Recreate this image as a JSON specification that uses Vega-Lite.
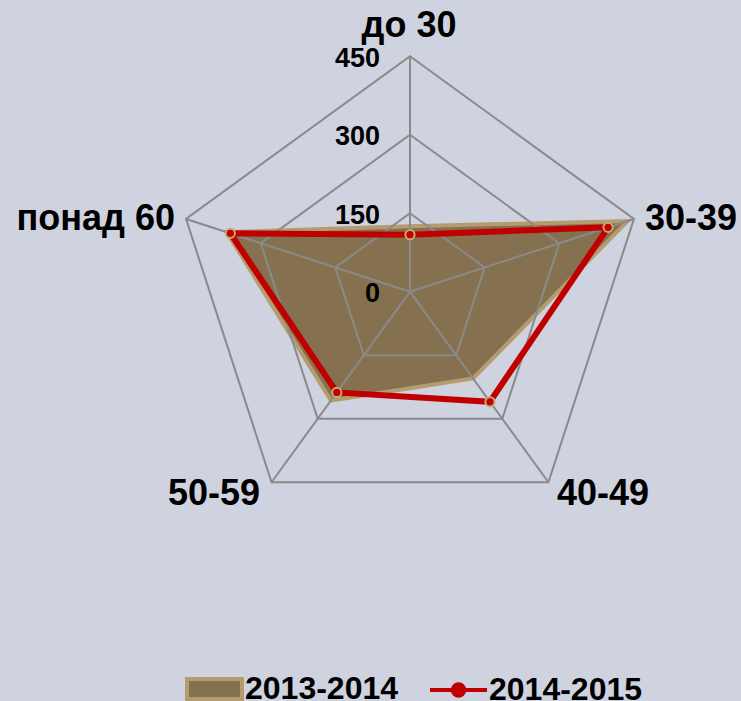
{
  "$schema": "https://vega.github.io/schema/vega-lite/v6.json",
  "width": 741,
  "height": 701,
  "autosize": {"type": "none"},
  "padding": 0,
  "background": "#cfd2df",
  "config": {
    "view": {"stroke": null},
    "text": {"font": "Liberation Sans", "fontWeight": "bold", "color": "black"}
  },
  "datasets": {
    "vals": [
      {"series": "2013-2014", "axis": "до 30", "idx": 0, "value": 125},
      {"series": "2013-2014", "axis": "30-39", "idx": 1, "value": 437},
      {"series": "2013-2014", "axis": "40-49", "idx": 2, "value": 205},
      {"series": "2013-2014", "axis": "50-59", "idx": 3, "value": 257},
      {"series": "2013-2014", "axis": "понад 60", "idx": 4, "value": 368},
      {"series": "2014-2015", "axis": "до 30", "idx": 0, "value": 109},
      {"series": "2014-2015", "axis": "30-39", "idx": 1, "value": 398},
      {"series": "2014-2015", "axis": "40-49", "idx": 2, "value": 260},
      {"series": "2014-2015", "axis": "50-59", "idx": 3, "value": 238},
      {"series": "2014-2015", "axis": "понад 60", "idx": 4, "value": 361}
    ],
    "grid": [
      {"ring": 150, "idx": 0}, {"ring": 150, "idx": 1}, {"ring": 150, "idx": 2}, {"ring": 150, "idx": 3}, {"ring": 150, "idx": 4},
      {"ring": 300, "idx": 0}, {"ring": 300, "idx": 1}, {"ring": 300, "idx": 2}, {"ring": 300, "idx": 3}, {"ring": 300, "idx": 4},
      {"ring": 450, "idx": 0}, {"ring": 450, "idx": 1}, {"ring": 450, "idx": 2}, {"ring": 450, "idx": 3}, {"ring": 450, "idx": 4}
    ],
    "spokes": [
      {"axis": "до 30", "idx": 0, "max": 450},
      {"axis": "30-39", "idx": 1, "max": 450},
      {"axis": "40-49", "idx": 2, "max": 450},
      {"axis": "50-59", "idx": 3, "max": 450},
      {"axis": "понад 60", "idx": 4, "max": 450}
    ],
    "ticks": [{"tick": 0}, {"tick": 150}, {"tick": 300}, {"tick": 450}]
  },
  "layer": [
    {
      "data": {"name": "vals"},
      "transform": [
        {"filter": "datum.series === '2013-2014'"},
        {"calculate": "datum.value*cos(PI/2 - datum.idx*2*PI/5)", "as": "x"},
        {"calculate": "datum.value*sin(PI/2 - datum.idx*2*PI/5)", "as": "y"}
      ],
      "mark": {"type": "line", "interpolate": "linear-closed", "fill": "#85714f", "strokeWidth": 4, "strokeJoin": "miter"},
      "encoding": {
        "x": {"field": "x", "type": "quantitative", "axis": null, "scale": {"domain": [-783.4, 632.5], "nice": false, "zero": false}},
        "y": {"field": "y", "type": "quantitative", "axis": null, "scale": {"domain": [-782.1, 557.4], "nice": false, "zero": false}},
        "order": {"field": "idx", "type": "quantitative"},
        "stroke": {
          "field": "series", "type": "nominal",
          "scale": {"domain": ["2013-2014"], "range": ["#b49c6e"]},
          "legend": {
            "orient": "none", "legendX": 185, "legendY": 659.5, "title": null, "padding": 0,
            "labelFont": "Liberation Sans", "labelFontSize": 32, "labelFontWeight": "bold", "labelColor": "black",
            "symbolType": "M-1,-0.36H1V0.36H-1Z", "symbolSize": 3025, "symbolStrokeWidth": 4,
            "symbolFillColor": "#85714f", "labelOffset": 1,
            "encode": {"symbols": {"fill": {"value": "#85714f"}, "stroke": {"value": "#b49c6e"}, "strokeWidth": {"value": 4}, "opacity": {"value": 1}}}
          }
        }
      }
    },
    {
      "data": {"name": "grid"},
      "transform": [
        {"calculate": "datum.ring*cos(PI/2 - datum.idx*2*PI/5)", "as": "x"},
        {"calculate": "datum.ring*sin(PI/2 - datum.idx*2*PI/5)", "as": "y"}
      ],
      "mark": {"type": "line", "interpolate": "linear-closed", "stroke": "#8a8a8a", "strokeWidth": 2},
      "encoding": {
        "x": {"field": "x", "type": "quantitative", "axis": null, "scale": {"domain": [-783.4, 632.5], "nice": false, "zero": false}},
        "y": {"field": "y", "type": "quantitative", "axis": null, "scale": {"domain": [-782.1, 557.4], "nice": false, "zero": false}},
        "detail": {"field": "ring", "type": "nominal"},
        "order": {"field": "idx", "type": "quantitative"}
      }
    },
    {
      "data": {"name": "spokes"},
      "transform": [
        {"calculate": "datum.max*cos(PI/2 - datum.idx*2*PI/5)", "as": "x"},
        {"calculate": "datum.max*sin(PI/2 - datum.idx*2*PI/5)", "as": "y"},
        {"calculate": "0", "as": "cx"},
        {"calculate": "0", "as": "cy"}
      ],
      "mark": {"type": "rule", "stroke": "#8a8a8a", "strokeWidth": 2},
      "encoding": {
        "x": {"field": "x", "type": "quantitative", "axis": null, "scale": {"domain": [-783.4, 632.5], "nice": false, "zero": false}},
        "y": {"field": "y", "type": "quantitative", "axis": null, "scale": {"domain": [-782.1, 557.4], "nice": false, "zero": false}},
        "x2": {"field": "cx"},
        "y2": {"field": "cy"}
      }
    },
    {
      "data": {"name": "vals"},
      "transform": [
        {"filter": "datum.series === '2014-2015'"},
        {"calculate": "datum.value*cos(PI/2 - datum.idx*2*PI/5)", "as": "x"},
        {"calculate": "datum.value*sin(PI/2 - datum.idx*2*PI/5)", "as": "y"}
      ],
      "mark": {"type": "line", "interpolate": "linear-closed", "stroke": "#c00000", "strokeWidth": 6, "strokeJoin": "miter"},
      "encoding": {
        "x": {"field": "x", "type": "quantitative", "axis": null, "scale": {"domain": [-783.4, 632.5], "nice": false, "zero": false}},
        "y": {"field": "y", "type": "quantitative", "axis": null, "scale": {"domain": [-782.1, 557.4], "nice": false, "zero": false}},
        "order": {"field": "idx", "type": "quantitative"}
      }
    },
    {
      "data": {"name": "vals"},
      "transform": [
        {"filter": "datum.series === '2014-2015'"},
        {"calculate": "datum.value*cos(PI/2 - datum.idx*2*PI/5)", "as": "x"},
        {"calculate": "datum.value*sin(PI/2 - datum.idx*2*PI/5)", "as": "y"}
      ],
      "mark": {"type": "point", "filled": true, "shape": "circle", "size": 85, "stroke": "#c8a870", "strokeWidth": 2, "opacity": 1},
      "encoding": {
        "x": {"field": "x", "type": "quantitative", "axis": null, "scale": {"domain": [-783.4, 632.5], "nice": false, "zero": false}},
        "y": {"field": "y", "type": "quantitative", "axis": null, "scale": {"domain": [-782.1, 557.4], "nice": false, "zero": false}},
        "fill": {
          "field": "series", "type": "nominal",
          "scale": {"domain": ["2014-2015"], "range": ["#c00000"]},
          "legend": {
            "orient": "none", "legendX": 428, "legendY": 659.5, "title": null, "padding": 0,
            "labelFont": "Liberation Sans", "labelFontSize": 32, "labelFontWeight": "bold", "labelColor": "black",
            "symbolType": "M-1,0H-0.22M0.22,0H1M0.2,0A0.2,0.2,0,1,1,-0.2,0A0.2,0.2,0,1,1,0.2,0",
            "symbolSize": 3249, "symbolStrokeWidth": 4, "symbolStrokeColor": "#c00000", "labelOffset": 0,
            "encode": {"symbols": {"fill": {"value": "#c00000"}, "stroke": {"value": "#c00000"}, "strokeWidth": {"value": 4}, "opacity": {"value": 1}}}
          }
        }
      }
    },
    {
      "data": {"name": "ticks"},
      "transform": [{"calculate": "0", "as": "cx"}],
      "mark": {"type": "text", "align": "right", "baseline": "alphabetic", "dx": -30, "dy": 10.7, "fontSize": 27},
      "encoding": {
        "x": {"field": "cx", "type": "quantitative", "axis": null, "scale": {"domain": [-783.4, 632.5], "nice": false, "zero": false}},
        "y": {"field": "tick", "type": "quantitative", "axis": null, "scale": {"domain": [-782.1, 557.4], "nice": false, "zero": false}},
        "text": {"field": "tick", "type": "quantitative"}
      }
    },
    {
      "data": {"name": "spokes"},
      "transform": [
        {"filter": "datum.idx === 0"},
        {"calculate": "datum.max*cos(PI/2 - datum.idx*2*PI/5)", "as": "x"},
        {"calculate": "datum.max*sin(PI/2 - datum.idx*2*PI/5)", "as": "y"}
      ],
      "mark": {"type": "text", "align": "center", "baseline": "alphabetic", "dx": -1, "dy": -19, "fontSize": 36},
      "encoding": {
        "x": {"field": "x", "type": "quantitative", "axis": null, "scale": {"domain": [-783.4, 632.5], "nice": false, "zero": false}},
        "y": {"field": "y", "type": "quantitative", "axis": null, "scale": {"domain": [-782.1, 557.4], "nice": false, "zero": false}},
        "text": {"field": "axis", "type": "nominal"}
      }
    },
    {
      "data": {"name": "spokes"},
      "transform": [
        {"filter": "datum.idx === 1"},
        {"calculate": "datum.max*cos(PI/2 - datum.idx*2*PI/5)", "as": "x"},
        {"calculate": "datum.max*sin(PI/2 - datum.idx*2*PI/5)", "as": "y"}
      ],
      "mark": {"type": "text", "align": "left", "baseline": "alphabetic", "dx": 11, "dy": 11, "fontSize": 36},
      "encoding": {
        "x": {"field": "x", "type": "quantitative", "axis": null, "scale": {"domain": [-783.4, 632.5], "nice": false, "zero": false}},
        "y": {"field": "y", "type": "quantitative", "axis": null, "scale": {"domain": [-782.1, 557.4], "nice": false, "zero": false}},
        "text": {"field": "axis", "type": "nominal"}
      }
    },
    {
      "data": {"name": "spokes"},
      "transform": [
        {"filter": "datum.idx === 2"},
        {"calculate": "datum.max*cos(PI/2 - datum.idx*2*PI/5)", "as": "x"},
        {"calculate": "datum.max*sin(PI/2 - datum.idx*2*PI/5)", "as": "y"}
      ],
      "mark": {"type": "text", "align": "left", "baseline": "alphabetic", "dx": 8.6, "dy": 23, "fontSize": 36},
      "encoding": {
        "x": {"field": "x", "type": "quantitative", "axis": null, "scale": {"domain": [-783.4, 632.5], "nice": false, "zero": false}},
        "y": {"field": "y", "type": "quantitative", "axis": null, "scale": {"domain": [-782.1, 557.4], "nice": false, "zero": false}},
        "text": {"field": "axis", "type": "nominal"}
      }
    },
    {
      "data": {"name": "spokes"},
      "transform": [
        {"filter": "datum.idx === 3"},
        {"calculate": "datum.max*cos(PI/2 - datum.idx*2*PI/5)", "as": "x"},
        {"calculate": "datum.max*sin(PI/2 - datum.idx*2*PI/5)", "as": "y"}
      ],
      "mark": {"type": "text", "align": "right", "baseline": "alphabetic", "dx": -11.6, "dy": 23, "fontSize": 36},
      "encoding": {
        "x": {"field": "x", "type": "quantitative", "axis": null, "scale": {"domain": [-783.4, 632.5], "nice": false, "zero": false}},
        "y": {"field": "y", "type": "quantitative", "axis": null, "scale": {"domain": [-782.1, 557.4], "nice": false, "zero": false}},
        "text": {"field": "axis", "type": "nominal"}
      }
    },
    {
      "data": {"name": "spokes"},
      "transform": [
        {"filter": "datum.idx === 4"},
        {"calculate": "datum.max*cos(PI/2 - datum.idx*2*PI/5)", "as": "x"},
        {"calculate": "datum.max*sin(PI/2 - datum.idx*2*PI/5)", "as": "y"}
      ],
      "mark": {"type": "text", "align": "right", "baseline": "alphabetic", "dx": -11, "dy": 11, "fontSize": 36},
      "encoding": {
        "x": {"field": "x", "type": "quantitative", "axis": null, "scale": {"domain": [-783.4, 632.5], "nice": false, "zero": false}},
        "y": {"field": "y", "type": "quantitative", "axis": null, "scale": {"domain": [-782.1, 557.4], "nice": false, "zero": false}},
        "text": {"field": "axis", "type": "nominal"}
      }
    }
  ]
}
